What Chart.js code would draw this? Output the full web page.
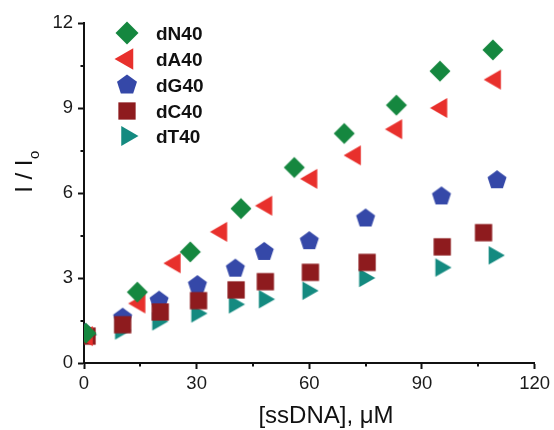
<!DOCTYPE html>
<html><head><meta charset="utf-8">
<script src="https://cdn.jsdelivr.net/npm/chart.js@4/dist/chart.umd.min.js"></script>
<style>html,body{margin:0;padding:0;background:#fff;}#wrap{width:554px;height:430px;}</style>
</head><body><div id="wrap"><canvas id="c" width="554" height="430"></canvas></div>
<script>
const seriesNames = ['dN40', 'dA40', 'dG40', 'dC40', 'dT40'];
const dN40_x = [0.5, 14.2, 28.3, 41.8, 56, 69.3, 83.2, 94.8, 108.9];
const dN40_y = [1.05, 2.5, 3.92, 5.45, 6.9, 8.1, 9.1, 10.3, 11.05];
const dA40_x = [0.8, 14.8, 24.2, 36.6, 48.6, 60.6, 72.2, 83.2, 95.2, 109.5];
const dA40_y = [0.95, 2.1, 3.52, 4.63, 5.55, 6.5, 7.33, 8.25, 9.0, 10.0];
const dG40_x = [0.3, 10.3, 20, 30.2, 40.3, 48, 60, 75, 95.2, 110];
const dG40_y = [1.05, 1.6, 2.2, 2.75, 3.33, 3.92, 4.3, 5.1, 5.88, 6.45];
const dC40_x = [0.8, 10.3, 20.3, 30.5, 40.5, 48.3, 60.3, 75.4, 95.4, 106.4];
const dC40_y = [0.95, 1.35, 1.8, 2.2, 2.58, 2.87, 3.2, 3.55, 4.1, 4.6];
const dT40_x = [0.6, 9.7, 19.6, 30, 40, 48, 59.6, 74.7, 95, 109.2];
const dT40_y = [1.0, 1.15, 1.47, 1.75, 2.07, 2.25, 2.55, 3.0, 3.37, 3.8];
const xTickValues = [0, 30, 60, 90, 120];
const yTickValues = [0, 3, 6, 9, 12];
const xMinorTicks = [15, 45, 75, 105];
const yMinorTicks = [1.5, 4.5, 7.5, 10.5];
const xTitle = '[ssDNA], \u03BCM';

const colors = ['#15873f', '#e8302c', '#3548a8', '#8e1b1e', '#148a80'];
const shapes = ['diamond', 'triLeft', 'pentagon', 'square', 'triRight'];
const dataR = [10.5, 11.5, 10, 12, 10.8];
const legendR = [11.5, 12.5, 10.5, 12, 11.5];
const drawOrder = [0, 1, 3, 2, 4];

function makeMarker(shape, r, color) {
  const size = 2 * Math.ceil(r) + 4;
  const cv = document.createElement('canvas');
  cv.width = size; cv.height = size;
  const c = cv.getContext('2d');
  const cx = size / 2, cy = size / 2;
  c.fillStyle = color;
  c.beginPath();
  if (shape === 'diamond') {
    c.moveTo(cx, cy - r); c.lineTo(cx + r, cy); c.lineTo(cx, cy + r); c.lineTo(cx - r, cy);
  } else if (shape === 'triLeft' || shape === 'triRight') {
    const s = shape === 'triLeft' ? -1 : 1;
    c.moveTo(cx + s * r, cy);
    c.lineTo(cx - s * r / 2, cy - r * Math.sin(Math.PI / 3));
    c.lineTo(cx - s * r / 2, cy + r * Math.sin(Math.PI / 3));
  } else if (shape === 'pentagon') {
    for (let k = 0; k < 5; k++) {
      const a = -Math.PI / 2 + k * 2 * Math.PI / 5;
      const px = cx + r * Math.cos(a), py = cy + r * Math.sin(a);
      if (k === 0) c.moveTo(px, py); else c.lineTo(px, py);
    }
  } else {
    const h = r * 0.72;
    c.rect(cx - h, cy - h, 2 * h, 2 * h);
  }
  c.closePath();
  c.fill();
  return cv;
}

const xs = [dN40_x, dA40_x, dG40_x, dC40_x, dT40_x];
const ys = [dN40_y, dA40_y, dG40_y, dC40_y, dT40_y];
const datasets = seriesNames.map((name, i) => ({
  label: name,
  data: xs[i].map((x, j) => ({x: x, y: ys[i][j]})),
  pointStyle: makeMarker(shapes[i], dataR[i], colors[i]),
  backgroundColor: colors[i],
  borderColor: colors[i],
  showLine: false,
  order: drawOrder[i]
}));
const legendImgs = seriesNames.map((n, i) => makeMarker(shapes[i], legendR[i], colors[i]));

const FONT = '"Liberation Sans", Arial, sans-serif';

const extras = {
  id: 'extras',
  afterDraw(chart) {
    const ctx = chart.ctx;
    const xs_ = chart.scales.x, ys_ = chart.scales.y;
    const a = chart.chartArea;
    ctx.save();
    ctx.strokeStyle = '#111';
    ctx.lineWidth = 2;
    ctx.beginPath();
    xMinorTicks.forEach(v => { const px = Math.round(xs_.getPixelForValue(v)); ctx.moveTo(px, a.bottom); ctx.lineTo(px, a.bottom + 3.5); });
    yMinorTicks.forEach(v => { const py = Math.round(ys_.getPixelForValue(v)); ctx.moveTo(a.left - 3.5, py); ctx.lineTo(a.left, py); });
    ctx.stroke();
    // x title
    ctx.fillStyle = '#111';
    ctx.font = '24px ' + FONT;
    ctx.textAlign = 'center';
    ctx.textBaseline = 'alphabetic';
    ctx.fillText(xTitle, 326, 423);
    // y title with subscript
    ctx.translate(32, 172);
    ctx.rotate(-Math.PI / 2);
    ctx.font = '24px ' + FONT;
    const main = 'I / I';
    const wMain = ctx.measureText(main).width;
    ctx.font = '15px ' + FONT;
    const wSub = ctx.measureText('o').width;
    const start = -(wMain + wSub) / 2;
    ctx.textAlign = 'left';
    ctx.font = '24px ' + FONT;
    ctx.fillText(main, start, 0);
    ctx.font = '15px ' + FONT;
    ctx.fillText('o', start + wMain + 0.5, 7);
    ctx.restore();
    // legend
    ctx.save();
    const rowsY = [33, 59, 85, 111, 136];
    ctx.font = 'bold 19px ' + FONT;
    ctx.fillStyle = '#111';
    ctx.textAlign = 'left';
    ctx.textBaseline = 'middle';
    seriesNames.forEach((n, i) => {
      const img = legendImgs[i];
      ctx.drawImage(img, 127 - img.width / 2, rowsY[i] - img.height / 2);
      ctx.fillText(n, 156, rowsY[i] + 2);
    });
    ctx.restore();
  }
};

new Chart(document.getElementById('c'), {
  type: 'scatter',
  data: {datasets: datasets},
  options: {
    responsive: false,
    animation: false,
    devicePixelRatio: 1,
    layout: {padding: {left: 0, top: 23, right: 19, bottom: 0}},
    plugins: {legend: {display: false}, tooltip: {enabled: false}},
    scales: {
      x: {
        type: 'linear', min: 0, max: 120,
        afterBuildTicks: s => { s.ticks = xTickValues.map(v => ({value: v})); },
        afterFit: s => { s.height = 67; },
        ticks: {font: {size: 18.5, family: FONT}, color: '#1a1a1a', padding: 4, maxRotation: 0},
        grid: {drawOnChartArea: false, drawTicks: true, tickLength: 6, tickWidth: 2, tickColor: '#111'},
        border: {display: true, color: '#111', width: 2}
      },
      y: {
        type: 'linear', min: 0, max: 12,
        afterBuildTicks: s => { s.ticks = yTickValues.map(v => ({value: v})); },
        afterFit: s => { s.width = 84; },
        ticks: {font: {size: 18.5, family: FONT}, color: '#1a1a1a', padding: 5},
        grid: {drawOnChartArea: false, drawTicks: true, tickLength: 6, tickWidth: 2, tickColor: '#111'},
        border: {display: true, color: '#111', width: 2}
      }
    }
  },
  plugins: [extras]
});
</script></body></html>
